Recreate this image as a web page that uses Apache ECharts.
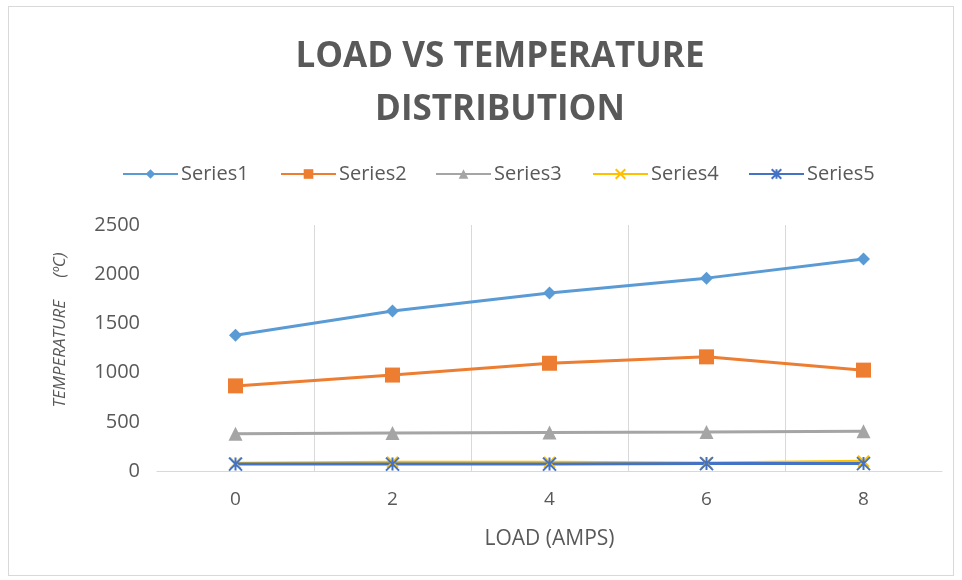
<!DOCTYPE html>
<html>
<head>
<meta charset="utf-8">
<script src="https://cdn.jsdelivr.net/npm/echarts@6/dist/echarts.min.js"></script>
<style>
  html, body { margin: 0; padding: 0; background: #fff; }
  #chart { width: 962px; height: 580px; }
  #frame { position: absolute; left: 8px; top: 6px; width: 944px; height: 568px; border: 1px solid #d9d9d9; pointer-events: none; }
</style>
</head>
<body>
<div id="chart"></div>
<div id="frame"></div>
<script>
var loads = ['0', '2', '4', '6', '8']
var seriesNames = ['Series1', 'Series2', 'Series3', 'Series4', 'Series5']
var series1 = [1380, 1625, 1810, 1960, 2155]
var series2 = [865, 975, 1095, 1160, 1025]
var series3 = [378, 385, 390, 396, 405]
var series4 = [80, 90, 88, 82, 100]
var series5 = [70, 70, 70, 75, 75]

var colors = ['#5B9BD5', '#ED7D31', '#A5A5A5', '#FFC000', '#4472C4']
var textGrey = '#595959'
var legendLeft = [117, 275, 430, 587, 743]

function lineSeries(name, data, color, symbol, size, stroke) {
    return {
        name: name,
        type: 'line',
        data: data,
        symbol: symbol,
        symbolSize: size,
        lineStyle: { color: color, width: 3 },
        itemStyle: stroke
            ? { color: color, borderColor: color, borderWidth: 2 }
            : { color: color },
        emphasis: { disabled: true }
    }
}

// one legend per item so the uneven Excel spacing can be kept
var legends = seriesNames.map(function (name, i) {
    return {
        top: 159,
        left: legendLeft[i],
        itemWidth: 55,
        itemHeight: 12,
        itemGap: 0,
        textStyle: { fontFamily: 'Open Sans', fontSize: 20, color: textGrey, padding: [0, 0, 0, -2] },
        data: [name]
    }
})

var myChart = echarts.init(document.getElementById('chart'))
var option = {
    animation: false,
    title: {
        text: 'LOAD VS TEMPERATURE\nDISTRIBUTION',
        left: 495,
        textAlign: 'center',
        top: 26,
        textStyle: {
            fontFamily: 'Open Sans',
            fontSize: 35,
            fontWeight: 'bold',
            color: textGrey,
            lineHeight: 53
        }
    },
    legend: legends,
    grid: { left: 157, right: 20, top: 225, bottom: 109, containLabel: false },
    graphic: [{
        type: 'text',
        x: 60,
        y: 330,
        rotation: Math.PI / 2,
        style: {
            text: 'TEMPERATURE     (ºC)',
            fontFamily: 'Open Sans',
            fontSize: 17,
            fontStyle: 'italic',
            fill: textGrey,
            align: 'center',
            verticalAlign: 'middle'
        }
    }],
    xAxis: {
        type: 'category',
        data: loads,
        boundaryGap: true,
        name: 'LOAD (AMPS)',
        nameLocation: 'middle',
        nameGap: 58,
        nameTextStyle: { fontFamily: 'Open Sans', fontSize: 21, color: textGrey },
        axisLine: { lineStyle: { color: '#d9d9d9', width: 1 } },
        axisTick: { show: false },
        axisLabel: { fontFamily: 'Open Sans', fontSize: 19, color: textGrey, margin: 19 },
        splitLine: { show: true, showMinLine: false, showMaxLine: false, lineStyle: { color: '#d9d9d9' } }
    },
    yAxis: {
        type: 'value',
        min: 0,
        max: 2500,
        interval: 500,
        axisLine: { show: false },
        axisTick: { show: false },
        axisLabel: {
            fontFamily: 'Open Sans', fontSize: 20, color: textGrey, margin: 17,
            formatter: function (v) { return String(v) }
        },
        splitLine: { show: false }
    },
    series: [
        lineSeries('Series1', series1, colors[0], 'diamond', 13, false),
        lineSeries('Series2', series2, colors[1], 'rect', 15, false),
        lineSeries('Series3', series3, colors[2], 'triangle', 14, false),
        lineSeries('Series4', series4, colors[3], 'path://M0,0L10,10M10,0L0,10', 11, true),
        lineSeries('Series5', series5, colors[4], 'path://M0,0L10,10M10,0L0,10M5,0L5,10', 13, true)
    ]
}
myChart.setOption(option)
</script>
</body>
</html>
